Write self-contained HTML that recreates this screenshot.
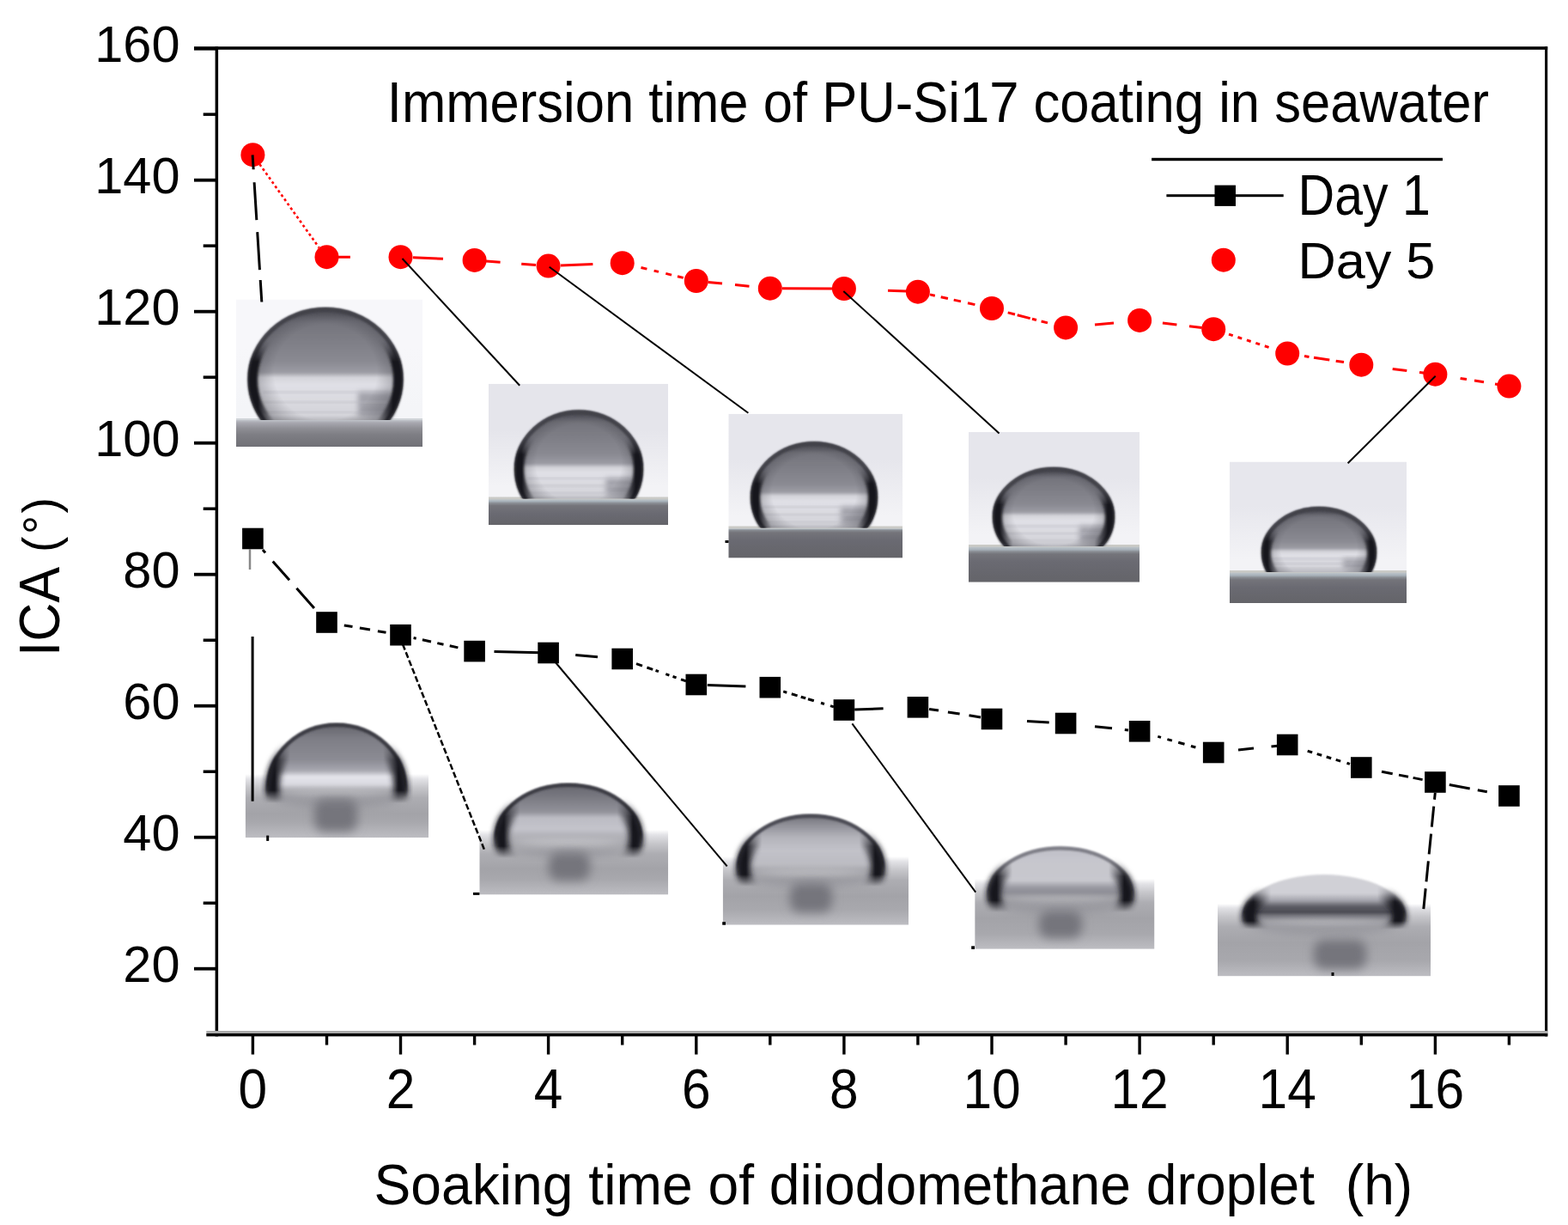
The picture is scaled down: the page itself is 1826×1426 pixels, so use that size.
<!DOCTYPE html>
<html><head><meta charset="utf-8"><title>ICA vs soaking time</title>
<style>html,body{margin:0;padding:0;background:#fff;}svg{display:block;}</style></head>
<body>
<svg width="1826" height="1426" viewBox="0 0 1826 1426">
<defs>
<filter id="b1" x="-20%" y="-20%" width="140%" height="140%"><feGaussianBlur stdDeviation="1.2"/></filter>
<filter id="b15" x="-20%" y="-20%" width="140%" height="140%"><feGaussianBlur stdDeviation="1.8"/></filter>
<filter id="b2" x="-30%" y="-30%" width="160%" height="160%"><feGaussianBlur stdDeviation="3"/></filter>
<filter id="b3" x="-50%" y="-50%" width="200%" height="200%"><feGaussianBlur stdDeviation="6"/></filter>
<linearGradient id="sidemask" x1="0" y1="0" x2="1" y2="0">
<stop offset="0" stop-color="#fff"/><stop offset="0.1" stop-color="#fff"/><stop offset="0.2" stop-color="#000"/>
<stop offset="0.8" stop-color="#000"/><stop offset="0.9" stop-color="#fff"/><stop offset="1" stop-color="#fff"/></linearGradient>
</defs>
<rect width="1826" height="1426" fill="#fff"/>

<clipPath id="c1"><rect x="275" y="348.5" width="217" height="171.5"/></clipPath>
<linearGradient id="bgg1" gradientUnits="userSpaceOnUse" x1="0" y1="348.5" x2="0" y2="489"><stop offset="0.000" stop-color="#f7f7fa"/><stop offset="0.400" stop-color="#f7f7fa"/><stop offset="0.900" stop-color="#f4f5f8"/><stop offset="1.000" stop-color="#f4f5f8"/></linearGradient>
<linearGradient id="sg1" gradientUnits="userSpaceOnUse" x1="0" y1="489" x2="0" y2="520"><stop offset="0.000" stop-color="#d0d4d8"/><stop offset="0.000" stop-color="#c0c4ca"/><stop offset="0.097" stop-color="#a8a8b0"/><stop offset="0.323" stop-color="#8e8e94"/><stop offset="0.548" stop-color="#7e7e84"/><stop offset="1.000" stop-color="#707076"/></linearGradient>
<linearGradient id="dg1" gradientUnits="userSpaceOnUse" x1="0" y1="358" x2="0" y2="489"><stop offset="0.000" stop-color="#4a4a52"/><stop offset="0.046" stop-color="#5a5a62"/><stop offset="0.128" stop-color="#74747c"/><stop offset="0.481" stop-color="#8a8a92"/><stop offset="0.577" stop-color="#9c9ca4"/><stop offset="0.622" stop-color="#d4d4da"/><stop offset="0.684" stop-color="#e0e0e6"/><stop offset="0.962" stop-color="#d4d4da"/><stop offset="1.000" stop-color="#b8b8be"/></linearGradient>
<g clip-path="url(#c1)">
<rect x="275" y="348.5" width="217" height="171.5" fill="url(#bgg1)"/>
<rect x="275" y="487" width="217" height="33" fill="url(#sg1)"/>
<clipPath id="d1"><rect x="275" y="348.5" width="217" height="140.5"/></clipPath>
<mask id="m1"><rect x="280.5" y="350" width="197.0" height="147" fill="url(#sidemask)"/></mask>
<g clip-path="url(#d1)">
<ellipse cx="379" cy="442" rx="90.5" ry="84" fill="url(#dg1)" filter="url(#b1)"/>
<rect x="417.0" y="456.1" width="40.7" height="28.2" fill="#a2a2aa" filter="url(#b2)"/>
<rect x="306.6" y="455.1" width="144.8" height="2.5" fill="#b8b8c0" opacity="0.45" filter="url(#b15)"/>
<rect x="306.6" y="466.9" width="144.8" height="2.5" fill="#b8b8c0" opacity="0.45" filter="url(#b15)"/>
<rect x="306.6" y="478.6" width="144.8" height="2.5" fill="#b8b8c0" opacity="0.45" filter="url(#b15)"/>
<radialGradient id="sh1" cx="0.5" cy="0.45" r="0.55"><stop offset="0" stop-color="#1a1a22" stop-opacity="0"/><stop offset="0.6" stop-color="#1a1a22" stop-opacity="0"/><stop offset="0.92" stop-color="#1a1a22" stop-opacity="0.35"/><stop offset="1" stop-color="#1a1a22" stop-opacity="0.5"/></radialGradient>
<ellipse cx="379" cy="442" rx="90.5" ry="84" fill="url(#sh1)"/>
<ellipse cx="379" cy="442" rx="88.0" ry="81.5" fill="none" stroke="#42424a" stroke-width="4.5" filter="url(#b1)"/>
<linearGradient id="vmg1" gradientUnits="userSpaceOnUse" x1="0" y1="358" x2="0" y2="489"><stop offset="0.000" stop-color="#000"/><stop offset="0.289" stop-color="#000"/><stop offset="0.481" stop-color="#fff"/><stop offset="1.000" stop-color="#fff"/></linearGradient>
<mask id="vm1" maskUnits="userSpaceOnUse" x="275" y="348.5" width="217" height="171.5"><rect x="275" y="348.5" width="217" height="171.5" fill="url(#vmg1)"/></mask>
<g mask="url(#vm1)"><ellipse cx="379" cy="442" rx="84.5" ry="78" fill="none" stroke="#15151b" stroke-width="11" mask="url(#m1)" filter="url(#b15)"/></g>
</g>
</g>
<clipPath id="c2"><rect x="569" y="446.7" width="209" height="164.3"/></clipPath>
<linearGradient id="bgg2" gradientUnits="userSpaceOnUse" x1="0" y1="446.7" x2="0" y2="580.5"><stop offset="0.000" stop-color="#e5e5eb"/><stop offset="0.400" stop-color="#e5e5eb"/><stop offset="0.895" stop-color="#f3f3f6"/><stop offset="1.000" stop-color="#f3f3f6"/></linearGradient>
<linearGradient id="sg2" gradientUnits="userSpaceOnUse" x1="0" y1="580.5" x2="0" y2="611"><stop offset="0.000" stop-color="#cacac6"/><stop offset="0.049" stop-color="#b8c0c6"/><stop offset="0.105" stop-color="#a6b0b8"/><stop offset="0.170" stop-color="#8a8e94"/><stop offset="0.269" stop-color="#74747a"/><stop offset="0.564" stop-color="#6a6a72"/><stop offset="1.000" stop-color="#646469"/></linearGradient>
<linearGradient id="dg2" gradientUnits="userSpaceOnUse" x1="0" y1="477.4" x2="0" y2="580.5"><stop offset="0.000" stop-color="#4a4a52"/><stop offset="0.058" stop-color="#5a5a62"/><stop offset="0.134" stop-color="#74747c"/><stop offset="0.502" stop-color="#8a8a92"/><stop offset="0.602" stop-color="#9c9ca4"/><stop offset="0.649" stop-color="#d4d4da"/><stop offset="0.709" stop-color="#e0e0e6"/><stop offset="0.952" stop-color="#d4d4da"/><stop offset="1.000" stop-color="#b8b8be"/></linearGradient>
<g clip-path="url(#c2)">
<rect x="569" y="446.7" width="209" height="164.3" fill="url(#bgg2)"/>
<rect x="569" y="578.5" width="209" height="32.5" fill="url(#sg2)"/>
<clipPath id="d2"><rect x="569" y="446.7" width="209" height="133.8"/></clipPath>
<mask id="m2"><rect x="591" y="469.4" width="166" height="119.10000000000002" fill="url(#sidemask)"/></mask>
<g clip-path="url(#d2)">
<ellipse cx="674" cy="546.4" rx="75" ry="69" fill="url(#dg2)" filter="url(#b1)"/>
<rect x="705.5" y="556.6" width="33.8" height="20.5" fill="#a2a2aa" filter="url(#b2)"/>
<rect x="614.0" y="555.6" width="120.0" height="2.5" fill="#b8b8c0" opacity="0.45" filter="url(#b15)"/>
<rect x="614.0" y="564.2" width="120.0" height="2.5" fill="#b8b8c0" opacity="0.45" filter="url(#b15)"/>
<rect x="614.0" y="572.7" width="120.0" height="2.5" fill="#b8b8c0" opacity="0.45" filter="url(#b15)"/>
<radialGradient id="sh2" cx="0.5" cy="0.45" r="0.55"><stop offset="0" stop-color="#1a1a22" stop-opacity="0"/><stop offset="0.6" stop-color="#1a1a22" stop-opacity="0"/><stop offset="0.92" stop-color="#1a1a22" stop-opacity="0.35"/><stop offset="1" stop-color="#1a1a22" stop-opacity="0.5"/></radialGradient>
<ellipse cx="674" cy="546.4" rx="75" ry="69" fill="url(#sh2)"/>
<ellipse cx="674" cy="546.4" rx="72.5" ry="66.5" fill="none" stroke="#42424a" stroke-width="4.5" filter="url(#b1)"/>
<linearGradient id="vmg2" gradientUnits="userSpaceOnUse" x1="0" y1="477.4" x2="0" y2="580.5"><stop offset="0.000" stop-color="#000"/><stop offset="0.301" stop-color="#000"/><stop offset="0.502" stop-color="#fff"/><stop offset="1.000" stop-color="#fff"/></linearGradient>
<mask id="vm2" maskUnits="userSpaceOnUse" x="569" y="446.7" width="209" height="164.3"><rect x="569" y="446.7" width="209" height="164.3" fill="url(#vmg2)"/></mask>
<g mask="url(#vm2)"><ellipse cx="674" cy="546.4" rx="69" ry="63" fill="none" stroke="#15151b" stroke-width="11" mask="url(#m2)" filter="url(#b15)"/></g>
</g>
</g>
<clipPath id="c3"><rect x="848.3" y="481.7" width="202.70000000000005" height="167.90000000000003"/></clipPath>
<linearGradient id="bgg3" gradientUnits="userSpaceOnUse" x1="0" y1="481.7" x2="0" y2="614.5"><stop offset="0.000" stop-color="#e6e6ec"/><stop offset="0.400" stop-color="#e6e6ec"/><stop offset="0.895" stop-color="#f3f3f6"/><stop offset="1.000" stop-color="#f3f3f6"/></linearGradient>
<linearGradient id="sg3" gradientUnits="userSpaceOnUse" x1="0" y1="614.5" x2="0" y2="649.6"><stop offset="0.000" stop-color="#cacac6"/><stop offset="0.043" stop-color="#b8c0c6"/><stop offset="0.014" stop-color="#a6b0b8"/><stop offset="0.071" stop-color="#8a8e94"/><stop offset="0.157" stop-color="#74747a"/><stop offset="0.413" stop-color="#6a6a72"/><stop offset="1.000" stop-color="#646469"/></linearGradient>
<linearGradient id="dg3" gradientUnits="userSpaceOnUse" x1="0" y1="514.3" x2="0" y2="614.5"><stop offset="0.000" stop-color="#4a4a52"/><stop offset="0.060" stop-color="#5a5a62"/><stop offset="0.130" stop-color="#74747c"/><stop offset="0.487" stop-color="#8a8a92"/><stop offset="0.584" stop-color="#9c9ca4"/><stop offset="0.629" stop-color="#d4d4da"/><stop offset="0.691" stop-color="#e0e0e6"/><stop offset="0.950" stop-color="#d4d4da"/><stop offset="1.000" stop-color="#b8b8be"/></linearGradient>
<g clip-path="url(#c3)">
<rect x="848.3" y="481.7" width="202.70000000000005" height="167.90000000000003" fill="url(#bgg3)"/>
<rect x="848.3" y="612.5" width="202.70000000000005" height="37.10000000000002" fill="url(#sg3)"/>
<clipPath id="d3"><rect x="848.3" y="481.7" width="202.70000000000005" height="132.8"/></clipPath>
<mask id="m3"><rect x="866" y="506.29999999999995" width="164" height="116.20000000000005" fill="url(#sidemask)"/></mask>
<g clip-path="url(#d3)">
<ellipse cx="948" cy="579.3" rx="74" ry="65" fill="url(#dg3)" filter="url(#b1)"/>
<rect x="979.1" y="589.9" width="33.3" height="21.1" fill="#a2a2aa" filter="url(#b2)"/>
<rect x="888.8" y="588.9" width="118.4" height="2.5" fill="#b8b8c0" opacity="0.45" filter="url(#b15)"/>
<rect x="888.8" y="597.7" width="118.4" height="2.5" fill="#b8b8c0" opacity="0.45" filter="url(#b15)"/>
<rect x="888.8" y="606.5" width="118.4" height="2.5" fill="#b8b8c0" opacity="0.45" filter="url(#b15)"/>
<radialGradient id="sh3" cx="0.5" cy="0.45" r="0.55"><stop offset="0" stop-color="#1a1a22" stop-opacity="0"/><stop offset="0.6" stop-color="#1a1a22" stop-opacity="0"/><stop offset="0.92" stop-color="#1a1a22" stop-opacity="0.35"/><stop offset="1" stop-color="#1a1a22" stop-opacity="0.5"/></radialGradient>
<ellipse cx="948" cy="579.3" rx="74" ry="65" fill="url(#sh3)"/>
<ellipse cx="948" cy="579.3" rx="71.5" ry="62.5" fill="none" stroke="#42424a" stroke-width="4.5" filter="url(#b1)"/>
<linearGradient id="vmg3" gradientUnits="userSpaceOnUse" x1="0" y1="514.3" x2="0" y2="614.5"><stop offset="0.000" stop-color="#000"/><stop offset="0.292" stop-color="#000"/><stop offset="0.487" stop-color="#fff"/><stop offset="1.000" stop-color="#fff"/></linearGradient>
<mask id="vm3" maskUnits="userSpaceOnUse" x="848.3" y="481.7" width="202.70000000000005" height="167.90000000000003"><rect x="848.3" y="481.7" width="202.70000000000005" height="167.90000000000003" fill="url(#vmg3)"/></mask>
<g mask="url(#vm3)"><ellipse cx="948" cy="579.3" rx="68" ry="59" fill="none" stroke="#15151b" stroke-width="11" mask="url(#m3)" filter="url(#b15)"/></g>
</g>
</g>
<clipPath id="c4"><rect x="1128" y="502.8" width="199" height="174.90000000000003"/></clipPath>
<linearGradient id="bgg4" gradientUnits="userSpaceOnUse" x1="0" y1="502.8" x2="0" y2="636"><stop offset="0.000" stop-color="#e6e6ec"/><stop offset="0.400" stop-color="#e6e6ec"/><stop offset="0.895" stop-color="#f3f3f6"/><stop offset="1.000" stop-color="#f3f3f6"/></linearGradient>
<linearGradient id="sg4" gradientUnits="userSpaceOnUse" x1="0" y1="636" x2="0" y2="677.7"><stop offset="0.000" stop-color="#cacac6"/><stop offset="0.036" stop-color="#b8c0c6"/><stop offset="0.096" stop-color="#a6b0b8"/><stop offset="0.144" stop-color="#8a8e94"/><stop offset="0.216" stop-color="#74747a"/><stop offset="0.432" stop-color="#6a6a72"/><stop offset="1.000" stop-color="#646469"/></linearGradient>
<linearGradient id="dg4" gradientUnits="userSpaceOnUse" x1="0" y1="544" x2="0" y2="636"><stop offset="0.000" stop-color="#4a4a52"/><stop offset="0.065" stop-color="#5a5a62"/><stop offset="0.126" stop-color="#74747c"/><stop offset="0.473" stop-color="#8a8a92"/><stop offset="0.567" stop-color="#9c9ca4"/><stop offset="0.612" stop-color="#d4d4da"/><stop offset="0.675" stop-color="#e0e0e6"/><stop offset="0.946" stop-color="#d4d4da"/><stop offset="1.000" stop-color="#b8b8be"/></linearGradient>
<g clip-path="url(#c4)">
<rect x="1128" y="502.8" width="199" height="174.90000000000003" fill="url(#bgg4)"/>
<rect x="1128" y="634" width="199" height="43.700000000000045" fill="url(#sg4)"/>
<clipPath id="d4"><rect x="1128" y="502.8" width="199" height="133.2"/></clipPath>
<mask id="m4"><rect x="1148" y="536" width="158" height="108" fill="url(#sidemask)"/></mask>
<g clip-path="url(#d4)">
<ellipse cx="1227" cy="602" rx="71" ry="58" fill="url(#dg4)" filter="url(#b1)"/>
<rect x="1256.8" y="612.2" width="31.9" height="20.4" fill="#a2a2aa" filter="url(#b2)"/>
<rect x="1170.2" y="611.2" width="113.6" height="2.5" fill="#b8b8c0" opacity="0.45" filter="url(#b15)"/>
<rect x="1170.2" y="619.7" width="113.6" height="2.5" fill="#b8b8c0" opacity="0.45" filter="url(#b15)"/>
<rect x="1170.2" y="628.2" width="113.6" height="2.5" fill="#b8b8c0" opacity="0.45" filter="url(#b15)"/>
<radialGradient id="sh4" cx="0.5" cy="0.45" r="0.55"><stop offset="0" stop-color="#1a1a22" stop-opacity="0"/><stop offset="0.6" stop-color="#1a1a22" stop-opacity="0"/><stop offset="0.92" stop-color="#1a1a22" stop-opacity="0.35"/><stop offset="1" stop-color="#1a1a22" stop-opacity="0.5"/></radialGradient>
<ellipse cx="1227" cy="602" rx="71" ry="58" fill="url(#sh4)"/>
<ellipse cx="1227" cy="602" rx="68.5" ry="55.5" fill="none" stroke="#42424a" stroke-width="4.5" filter="url(#b1)"/>
<linearGradient id="vmg4" gradientUnits="userSpaceOnUse" x1="0" y1="544" x2="0" y2="636"><stop offset="0.000" stop-color="#000"/><stop offset="0.284" stop-color="#000"/><stop offset="0.473" stop-color="#fff"/><stop offset="1.000" stop-color="#fff"/></linearGradient>
<mask id="vm4" maskUnits="userSpaceOnUse" x="1128" y="502.8" width="199" height="174.90000000000003"><rect x="1128" y="502.8" width="199" height="174.90000000000003" fill="url(#vmg4)"/></mask>
<g mask="url(#vm4)"><ellipse cx="1227" cy="602" rx="65" ry="52" fill="none" stroke="#15151b" stroke-width="11" mask="url(#m4)" filter="url(#b15)"/></g>
</g>
</g>
<clipPath id="c5"><rect x="1432" y="537.5" width="206" height="164.5"/></clipPath>
<linearGradient id="bgg5" gradientUnits="userSpaceOnUse" x1="0" y1="537.5" x2="0" y2="666"><stop offset="0.000" stop-color="#e7e7ed"/><stop offset="0.400" stop-color="#e7e7ed"/><stop offset="0.891" stop-color="#f3f3f6"/><stop offset="1.000" stop-color="#f3f3f6"/></linearGradient>
<linearGradient id="sg5" gradientUnits="userSpaceOnUse" x1="0" y1="666" x2="0" y2="702"><stop offset="0.000" stop-color="#cacac6"/><stop offset="0.042" stop-color="#b8c0c6"/><stop offset="0.111" stop-color="#a6b0b8"/><stop offset="0.167" stop-color="#8a8e94"/><stop offset="0.250" stop-color="#74747a"/><stop offset="0.500" stop-color="#6a6a72"/><stop offset="1.000" stop-color="#646469"/></linearGradient>
<linearGradient id="dg5" gradientUnits="userSpaceOnUse" x1="0" y1="590.0" x2="0" y2="666"><stop offset="0.000" stop-color="#4a4a52"/><stop offset="0.079" stop-color="#5a5a62"/><stop offset="0.141" stop-color="#74747c"/><stop offset="0.528" stop-color="#8a8a92"/><stop offset="0.634" stop-color="#9c9ca4"/><stop offset="0.683" stop-color="#d4d4da"/><stop offset="0.739" stop-color="#e0e0e6"/><stop offset="0.934" stop-color="#d4d4da"/><stop offset="1.000" stop-color="#b8b8be"/></linearGradient>
<g clip-path="url(#c5)">
<rect x="1432" y="537.5" width="206" height="164.5" fill="url(#bgg5)"/>
<rect x="1432" y="664" width="206" height="38" fill="url(#sg5)"/>
<clipPath id="d5"><rect x="1432" y="537.5" width="206" height="128.5"/></clipPath>
<mask id="m5"><rect x="1461" y="582.0" width="150" height="92.0" fill="url(#sidemask)"/></mask>
<g clip-path="url(#d5)">
<ellipse cx="1536" cy="643.5" rx="67" ry="53.5" fill="url(#dg5)" filter="url(#b1)"/>
<rect x="1564.1" y="650.2" width="30.2" height="13.5" fill="#a2a2aa" filter="url(#b2)"/>
<rect x="1482.4" y="649.2" width="107.2" height="2.5" fill="#b8b8c0" opacity="0.45" filter="url(#b15)"/>
<rect x="1482.4" y="654.9" width="107.2" height="2.5" fill="#b8b8c0" opacity="0.45" filter="url(#b15)"/>
<rect x="1482.4" y="660.5" width="107.2" height="2.5" fill="#b8b8c0" opacity="0.45" filter="url(#b15)"/>
<radialGradient id="sh5" cx="0.5" cy="0.45" r="0.55"><stop offset="0" stop-color="#1a1a22" stop-opacity="0"/><stop offset="0.6" stop-color="#1a1a22" stop-opacity="0"/><stop offset="0.92" stop-color="#1a1a22" stop-opacity="0.35"/><stop offset="1" stop-color="#1a1a22" stop-opacity="0.5"/></radialGradient>
<ellipse cx="1536" cy="643.5" rx="67" ry="53.5" fill="url(#sh5)"/>
<ellipse cx="1536" cy="643.5" rx="64.5" ry="51.0" fill="none" stroke="#42424a" stroke-width="4.5" filter="url(#b1)"/>
<linearGradient id="vmg5" gradientUnits="userSpaceOnUse" x1="0" y1="590.0" x2="0" y2="666"><stop offset="0.000" stop-color="#000"/><stop offset="0.317" stop-color="#000"/><stop offset="0.528" stop-color="#fff"/><stop offset="1.000" stop-color="#fff"/></linearGradient>
<mask id="vm5" maskUnits="userSpaceOnUse" x="1432" y="537.5" width="206" height="164.5"><rect x="1432" y="537.5" width="206" height="164.5" fill="url(#vmg5)"/></mask>
<g mask="url(#vm5)"><ellipse cx="1536" cy="643.5" rx="61" ry="47.5" fill="none" stroke="#15151b" stroke-width="11" mask="url(#m5)" filter="url(#b15)"/></g>
</g>
</g>
<linearGradient id="bg6" gradientUnits="userSpaceOnUse" x1="0" y1="901" x2="0" y2="975"><stop offset="0.000" stop-color="#ffffff"/><stop offset="0.081" stop-color="#e2e2e6"/><stop offset="0.216" stop-color="#c6c6ca"/><stop offset="0.378" stop-color="#adadb2"/><stop offset="0.622" stop-color="#a3a3a8"/><stop offset="0.757" stop-color="#a8a8ad"/><stop offset="0.946" stop-color="#b8b8bd"/><stop offset="1.000" stop-color="#bdbdc2"/></linearGradient>
<clipPath id="e6"><rect x="285.7" y="901" width="213.3" height="74"/></clipPath>
<g clip-path="url(#e6)">
<rect x="285.7" y="901" width="213.3" height="74" fill="url(#bg6)"/>
<rect x="366" y="930" width="50" height="38" rx="12" fill="#75757c" filter="url(#b3)"/>
<ellipse cx="392" cy="922" rx="73.8" ry="12" fill="none" stroke="#7a7a82" stroke-width="8" filter="url(#b3)" opacity="0.6"/>
</g>
<linearGradient id="dd6" gradientUnits="userSpaceOnUse" x1="0" y1="842" x2="0" y2="924"><stop offset="0.000" stop-color="#4a4a52"/><stop offset="0.061" stop-color="#6a6a72"/><stop offset="0.220" stop-color="#7e7e86"/><stop offset="0.524" stop-color="#8c8c94"/><stop offset="0.671" stop-color="#a8a8b0"/><stop offset="0.756" stop-color="#e4e4ea"/><stop offset="0.854" stop-color="#dcdce2"/><stop offset="0.951" stop-color="#b0b0b6"/><stop offset="1.000" stop-color="#a8a8ae"/></linearGradient>
<linearGradient id="fm6" gradientUnits="userSpaceOnUse" x1="0" y1="842" x2="0" y2="942"><stop offset="0.000" stop-color="#fff"/><stop offset="0.720" stop-color="#fff"/><stop offset="0.860" stop-color="#000"/><stop offset="1.000" stop-color="#000"/></linearGradient>
<mask id="fmk6" maskUnits="userSpaceOnUse" x="290" y="832" width="204" height="120"><rect x="290" y="832" width="204" height="120" fill="url(#fm6)"/></mask>
<linearGradient id="sm6" gradientUnits="userSpaceOnUse" x1="0" y1="842" x2="0" y2="942"><stop offset="0.000" stop-color="#000"/><stop offset="0.180" stop-color="#000"/><stop offset="0.430" stop-color="#fff"/><stop offset="0.780" stop-color="#fff"/><stop offset="0.930" stop-color="#000"/></linearGradient>
<mask id="smk6" maskUnits="userSpaceOnUse" x="290" y="832" width="204" height="120"><rect x="290" y="832" width="204" height="120" fill="url(#sm6)"/></mask>
<mask id="n6"><rect x="302" y="834" width="180" height="110" fill="url(#sidemask)"/></mask>
<g mask="url(#fmk6)">
<ellipse cx="392" cy="918" rx="82" ry="76" fill="url(#dd6)" filter="url(#b1)"/>
<ellipse cx="392" cy="918" rx="80" ry="74" fill="none" stroke="#3a3a42" stroke-width="4" filter="url(#b1)"/>
</g>
<g mask="url(#smk6)"><ellipse cx="392" cy="918" rx="74" ry="68" fill="none" stroke="#18181e" stroke-width="18" mask="url(#n6)" filter="url(#b2)"/></g>
<linearGradient id="bg7" gradientUnits="userSpaceOnUse" x1="0" y1="966" x2="0" y2="1041.6"><stop offset="0.000" stop-color="#ffffff"/><stop offset="0.079" stop-color="#e2e2e6"/><stop offset="0.212" stop-color="#c6c6ca"/><stop offset="0.370" stop-color="#adadb2"/><stop offset="0.608" stop-color="#a3a3a8"/><stop offset="0.762" stop-color="#a8a8ad"/><stop offset="0.947" stop-color="#b8b8bd"/><stop offset="1.000" stop-color="#bdbdc2"/></linearGradient>
<clipPath id="e7"><rect x="558.3" y="966" width="219.9000000000001" height="75.59999999999991"/></clipPath>
<g clip-path="url(#e7)">
<rect x="558.3" y="966" width="219.9000000000001" height="75.59999999999991" fill="url(#bg7)"/>
<rect x="639" y="992" width="48" height="33" rx="12" fill="#75757c" filter="url(#b3)"/>
<ellipse cx="662" cy="979" rx="77.4" ry="12" fill="none" stroke="#7a7a82" stroke-width="8" filter="url(#b3)" opacity="0.6"/>
</g>
<linearGradient id="dd7" gradientUnits="userSpaceOnUse" x1="0" y1="912" x2="0" y2="981"><stop offset="0.000" stop-color="#4a4a52"/><stop offset="0.058" stop-color="#6a6a72"/><stop offset="0.261" stop-color="#7c7c84"/><stop offset="0.478" stop-color="#92929a"/><stop offset="0.580" stop-color="#bcbcc4"/><stop offset="0.768" stop-color="#c4c4cb"/><stop offset="0.913" stop-color="#acacb2"/><stop offset="1.000" stop-color="#a8a8ae"/></linearGradient>
<linearGradient id="fm7" gradientUnits="userSpaceOnUse" x1="0" y1="912" x2="0" y2="999"><stop offset="0.000" stop-color="#fff"/><stop offset="0.678" stop-color="#fff"/><stop offset="0.839" stop-color="#000"/><stop offset="1.000" stop-color="#000"/></linearGradient>
<mask id="fmk7" maskUnits="userSpaceOnUse" x="556" y="902" width="212" height="107"><rect x="556" y="902" width="212" height="107" fill="url(#fm7)"/></mask>
<linearGradient id="sm7" gradientUnits="userSpaceOnUse" x1="0" y1="912" x2="0" y2="999"><stop offset="0.000" stop-color="#000"/><stop offset="0.149" stop-color="#000"/><stop offset="0.437" stop-color="#fff"/><stop offset="0.839" stop-color="#fff"/><stop offset="1.000" stop-color="#000"/></linearGradient>
<mask id="smk7" maskUnits="userSpaceOnUse" x="556" y="902" width="212" height="107"><rect x="556" y="902" width="212" height="107" fill="url(#sm7)"/></mask>
<mask id="n7"><rect x="568" y="904" width="188" height="97" fill="url(#sidemask)"/></mask>
<g mask="url(#fmk7)">
<ellipse cx="662" cy="975" rx="86" ry="63" fill="url(#dd7)" filter="url(#b1)"/>
<ellipse cx="662" cy="975" rx="84" ry="61" fill="none" stroke="#3a3a42" stroke-width="4" filter="url(#b1)"/>
</g>
<g mask="url(#smk7)"><ellipse cx="662" cy="975" rx="78" ry="55" fill="none" stroke="#18181e" stroke-width="18" mask="url(#n7)" filter="url(#b2)"/></g>
<linearGradient id="bg8" gradientUnits="userSpaceOnUse" x1="0" y1="997" x2="0" y2="1076.7"><stop offset="0.000" stop-color="#ffffff"/><stop offset="0.075" stop-color="#e2e2e6"/><stop offset="0.201" stop-color="#c6c6ca"/><stop offset="0.351" stop-color="#adadb2"/><stop offset="0.577" stop-color="#a3a3a8"/><stop offset="0.774" stop-color="#a8a8ad"/><stop offset="0.950" stop-color="#b8b8bd"/><stop offset="1.000" stop-color="#bdbdc2"/></linearGradient>
<clipPath id="e8"><rect x="841.7" y="997" width="216.29999999999995" height="79.70000000000005"/></clipPath>
<g clip-path="url(#e8)">
<rect x="841.7" y="997" width="216.29999999999995" height="79.70000000000005" fill="url(#bg8)"/>
<rect x="920" y="1028" width="49" height="34" rx="12" fill="#75757c" filter="url(#b3)"/>
<ellipse cx="944" cy="1014" rx="77.4" ry="12" fill="none" stroke="#7a7a82" stroke-width="8" filter="url(#b3)" opacity="0.6"/>
</g>
<linearGradient id="dd8" gradientUnits="userSpaceOnUse" x1="0" y1="948" x2="0" y2="1016"><stop offset="0.000" stop-color="#5c5c64"/><stop offset="0.059" stop-color="#7a7a82"/><stop offset="0.206" stop-color="#94949c"/><stop offset="0.397" stop-color="#b4b4bb"/><stop offset="0.618" stop-color="#c2c2c9"/><stop offset="0.853" stop-color="#bcbcc2"/><stop offset="0.941" stop-color="#a8a8ae"/><stop offset="1.000" stop-color="#a8a8ae"/></linearGradient>
<linearGradient id="fm8" gradientUnits="userSpaceOnUse" x1="0" y1="948" x2="0" y2="1034"><stop offset="0.000" stop-color="#fff"/><stop offset="0.674" stop-color="#fff"/><stop offset="0.837" stop-color="#000"/><stop offset="1.000" stop-color="#000"/></linearGradient>
<mask id="fmk8" maskUnits="userSpaceOnUse" x="838" y="938" width="212" height="106"><rect x="838" y="938" width="212" height="106" fill="url(#fm8)"/></mask>
<linearGradient id="sm8" gradientUnits="userSpaceOnUse" x1="0" y1="948" x2="0" y2="1034"><stop offset="0.000" stop-color="#000"/><stop offset="0.140" stop-color="#000"/><stop offset="0.430" stop-color="#fff"/><stop offset="0.814" stop-color="#fff"/><stop offset="0.977" stop-color="#000"/></linearGradient>
<mask id="smk8" maskUnits="userSpaceOnUse" x="838" y="938" width="212" height="106"><rect x="838" y="938" width="212" height="106" fill="url(#sm8)"/></mask>
<mask id="n8"><rect x="850" y="940" width="188" height="96" fill="url(#sidemask)"/></mask>
<g mask="url(#fmk8)">
<ellipse cx="944" cy="1010" rx="86" ry="62" fill="url(#dd8)" filter="url(#b1)"/>
<ellipse cx="944" cy="1010" rx="84" ry="60" fill="none" stroke="#4a4a52" stroke-width="4" filter="url(#b1)"/>
</g>
<g mask="url(#smk8)"><ellipse cx="944" cy="1010" rx="78" ry="54" fill="none" stroke="#18181e" stroke-width="18" mask="url(#n8)" filter="url(#b2)"/></g>
<linearGradient id="bg9" gradientUnits="userSpaceOnUse" x1="0" y1="1023" x2="0" y2="1104.8"><stop offset="0.000" stop-color="#ffffff"/><stop offset="0.073" stop-color="#e2e2e6"/><stop offset="0.196" stop-color="#c6c6ca"/><stop offset="0.342" stop-color="#adadb2"/><stop offset="0.562" stop-color="#a3a3a8"/><stop offset="0.780" stop-color="#a8a8ad"/><stop offset="0.951" stop-color="#b8b8bd"/><stop offset="1.000" stop-color="#bdbdc2"/></linearGradient>
<clipPath id="e9"><rect x="1135.2" y="1023" width="209.29999999999995" height="81.79999999999995"/></clipPath>
<g clip-path="url(#e9)">
<rect x="1135.2" y="1023" width="209.29999999999995" height="81.79999999999995" fill="url(#bg9)"/>
<rect x="1210" y="1060" width="50" height="32" rx="12" fill="#75757c" filter="url(#b3)"/>
<ellipse cx="1235" cy="1045" rx="76.5" ry="12" fill="none" stroke="#7a7a82" stroke-width="8" filter="url(#b3)" opacity="0.6"/>
</g>
<linearGradient id="dd9" gradientUnits="userSpaceOnUse" x1="0" y1="985.5" x2="0" y2="1047"><stop offset="0.000" stop-color="#b4b4bc"/><stop offset="0.073" stop-color="#c0c0c8"/><stop offset="0.236" stop-color="#c6c6cd"/><stop offset="0.642" stop-color="#c8c8ce"/><stop offset="0.772" stop-color="#9a9aa2"/><stop offset="0.886" stop-color="#8a8a92"/><stop offset="1.000" stop-color="#a0a0a6"/></linearGradient>
<linearGradient id="fm9" gradientUnits="userSpaceOnUse" x1="0" y1="985.5" x2="0" y2="1065"><stop offset="0.000" stop-color="#fff"/><stop offset="0.648" stop-color="#fff"/><stop offset="0.824" stop-color="#000"/><stop offset="1.000" stop-color="#000"/></linearGradient>
<mask id="fmk9" maskUnits="userSpaceOnUse" x="1130" y="975.5" width="210" height="99.5"><rect x="1130" y="975.5" width="210" height="99.5" fill="url(#fm9)"/></mask>
<linearGradient id="sm9" gradientUnits="userSpaceOnUse" x1="0" y1="985.5" x2="0" y2="1065"><stop offset="0.000" stop-color="#000"/><stop offset="0.119" stop-color="#000"/><stop offset="0.434" stop-color="#fff"/><stop offset="0.786" stop-color="#fff"/><stop offset="0.962" stop-color="#000"/></linearGradient>
<mask id="smk9" maskUnits="userSpaceOnUse" x="1130" y="975.5" width="210" height="99.5"><rect x="1130" y="975.5" width="210" height="99.5" fill="url(#sm9)"/></mask>
<mask id="n9"><rect x="1142" y="977.5" width="186" height="89.5" fill="url(#sidemask)"/></mask>
<g mask="url(#fmk9)">
<ellipse cx="1235" cy="1041" rx="85" ry="55.5" fill="url(#dd9)" filter="url(#b1)"/>
<ellipse cx="1235" cy="1041" rx="83" ry="53.5" fill="none" stroke="#7c7c84" stroke-width="4" filter="url(#b1)"/>
</g>
<g mask="url(#smk9)"><ellipse cx="1235" cy="1041" rx="77" ry="47.5" fill="none" stroke="#18181e" stroke-width="18" mask="url(#n9)" filter="url(#b2)"/></g>
<linearGradient id="bg10" gradientUnits="userSpaceOnUse" x1="0" y1="1052" x2="0" y2="1136.4"><stop offset="0.000" stop-color="#ffffff"/><stop offset="0.059" stop-color="#e2e2e6"/><stop offset="0.178" stop-color="#c6c6ca"/><stop offset="0.320" stop-color="#adadb2"/><stop offset="0.533" stop-color="#a3a3a8"/><stop offset="0.787" stop-color="#a8a8ad"/><stop offset="0.953" stop-color="#b8b8bd"/><stop offset="1.000" stop-color="#bdbdc2"/></linearGradient>
<clipPath id="e10"><rect x="1418" y="1052" width="248" height="84.40000000000009"/></clipPath>
<g clip-path="url(#e10)">
<rect x="1418" y="1052" width="248" height="84.40000000000009" fill="url(#bg10)"/>
<rect x="1530" y="1094" width="61" height="34" rx="12" fill="#75757c" filter="url(#b3)"/>
<ellipse cx="1542" cy="1070" rx="85.5" ry="12" fill="none" stroke="#7a7a82" stroke-width="8" filter="url(#b3)" opacity="0.6"/>
</g>
<linearGradient id="dd10" gradientUnits="userSpaceOnUse" x1="0" y1="1018" x2="0" y2="1072"><stop offset="0.000" stop-color="#d2d2d8"/><stop offset="0.111" stop-color="#d0d0d6"/><stop offset="0.407" stop-color="#d0d0d6"/><stop offset="0.556" stop-color="#a6a6ae"/><stop offset="0.685" stop-color="#5e5e66"/><stop offset="0.815" stop-color="#4c4c54"/><stop offset="0.963" stop-color="#6e6e76"/><stop offset="1.000" stop-color="#8a8a90"/></linearGradient>
<linearGradient id="fm10" gradientUnits="userSpaceOnUse" x1="0" y1="1018" x2="0" y2="1090"><stop offset="0.000" stop-color="#fff"/><stop offset="0.611" stop-color="#fff"/><stop offset="0.806" stop-color="#000"/><stop offset="1.000" stop-color="#000"/></linearGradient>
<mask id="fmk10" maskUnits="userSpaceOnUse" x="1427" y="1008" width="230" height="92"><rect x="1427" y="1008" width="230" height="92" fill="url(#fm10)"/></mask>
<linearGradient id="sm10" gradientUnits="userSpaceOnUse" x1="0" y1="1018" x2="0" y2="1090"><stop offset="0.000" stop-color="#000"/><stop offset="0.167" stop-color="#000"/><stop offset="0.444" stop-color="#fff"/><stop offset="0.750" stop-color="#fff"/><stop offset="0.889" stop-color="#000"/></linearGradient>
<mask id="smk10" maskUnits="userSpaceOnUse" x="1427" y="1008" width="230" height="92"><rect x="1427" y="1008" width="230" height="92" fill="url(#sm10)"/></mask>
<mask id="n10"><rect x="1439" y="1010" width="206" height="82" fill="url(#sidemask)"/></mask>
<g mask="url(#fmk10)">
<ellipse cx="1542" cy="1066" rx="95" ry="48" fill="url(#dd10)" filter="url(#b1)"/>
</g>
<g mask="url(#smk10)"><ellipse cx="1542" cy="1066" rx="87" ry="40" fill="none" stroke="#18181e" stroke-width="18" mask="url(#n10)" filter="url(#b2)"/></g>
<path d="M306.0,640.1L309.0,643.5M317.7,653.4L337.0,675.3M345.4,684.8L365.9,708.0M400.8,728.0L410.5,729.6M418.9,731.1L431.0,733.1M439.9,734.7L449.5,736.3M481.6,742.5L484.7,743.2M491.9,744.8L502.0,747.0M509.3,748.6L516.5,750.2M523.7,751.8L533.4,753.9M575.5,758.6L628.6,759.8M670.2,762.6L696.0,764.7M741.0,772.7L748.0,775.1M753.4,777.0L760.2,779.4M763.5,780.5L767.0,781.7M775.3,784.6L779.4,786.1M783.5,787.5L787.6,788.9M793.0,790.8L799.0,792.9M823.8,797.5L868.4,799.1M912.2,804.9L916.3,806.2M921.8,807.8L928.6,809.9M932.7,811.2L938.2,812.8M941.0,813.7L947.8,815.8M956.0,818.3L960.0,819.5M967.0,821.6L971.0,822.9M995.2,826.0L1028.6,824.8M1082.0,825.4L1093.0,827.1M1103.9,828.9L1117.6,831.0M1128.5,832.8L1142.0,834.9M1196.0,839.4L1221.7,840.9M1275.0,845.7L1295.0,847.8M1309.8,849.4L1314.0,849.9M1348.3,857.4L1352.0,858.4M1359.4,860.6L1364.9,862.1M1372.2,864.2L1379.5,866.3M1386.9,868.5L1392.4,870.0M1442.0,873.0L1460.0,871.1M1480.5,869.0L1488.0,868.2M1522.7,874.2L1528.2,875.9M1533.7,877.6L1539.2,879.3M1544.7,881.0L1550.2,882.7M1555.7,884.4L1561.2,886.1M1568.5,888.3L1572.0,889.4M1609.0,898.2L1621.7,900.7M1629.0,902.1L1640.0,904.3M1645.6,905.4L1656.6,907.6M1687.8,913.6L1711.7,918.0M1720.8,919.7L1731.8,921.7" fill="none" stroke="#000" stroke-width="3"/>
<path d="M394.0,299.2L407.9,299.2M481.0,299.8L516.0,301.3M566.0,303.9L582.6,305.2M607.2,307.2L624.0,308.5M653.0,309.0L690.4,307.6M746.5,311.5L753.4,313.1M761.6,315.1L767.0,316.4M775.3,318.4L782.1,320.1M789.0,321.7L795.8,323.4M824.6,328.4L841.0,330.1M856.0,331.6L872.5,333.2M911.0,335.7L970.0,336.0M1034.0,338.2L1056.0,339.1M1083.0,342.9L1088.8,344.2M1095.7,345.7L1103.9,347.5M1110.7,349.1L1119.0,350.9M1127.0,352.7L1135.4,354.6M1173.7,363.9L1182.0,366.0M1184.7,366.7L1199.7,370.6M1202.0,371.2L1207.0,372.5M1212.6,374.0L1220.0,375.9M1275.0,378.0L1297.0,375.9M1353.9,376.1L1370.4,378.1M1385.0,379.8L1399.7,381.6M1519.0,414.5L1524.5,415.4M1530.0,416.2L1548.3,419.0M1555.7,420.2L1565.0,421.6M1621.7,429.4L1638.3,431.5M1653.0,433.4L1660.0,434.2M1700.6,440.4L1708.0,441.6M1717.0,443.1L1728.0,444.8M1741.0,446.9L1746.5,447.8" fill="none" stroke="#ff0000" stroke-width="3"/>
<line x1="302.4" y1="191.2" x2="371.5" y2="288.2" stroke="#ff0000" stroke-width="2.6" stroke-dasharray="3 3.2"/>
<line x1="1431" y1="389.1" x2="1482" y2="405.8" stroke="#ff0000" stroke-width="3" stroke-dasharray="5 6"/>
<circle cx="294.4" cy="180.2" r="14" fill="#ff0000"/>
<circle cx="380.5" cy="299.2" r="14" fill="#ff0000"/>
<circle cx="466.5" cy="299.2" r="14" fill="#ff0000"/>
<circle cx="552.6" cy="302.9" r="14" fill="#ff0000"/>
<circle cx="638.6" cy="309.6" r="14" fill="#ff0000"/>
<circle cx="724.7" cy="306.2" r="14" fill="#ff0000"/>
<circle cx="810.8" cy="327" r="14" fill="#ff0000"/>
<circle cx="896.8" cy="335.7" r="14" fill="#ff0000"/>
<circle cx="982.9" cy="336" r="14" fill="#ff0000"/>
<circle cx="1068.9" cy="339.7" r="14" fill="#ff0000"/>
<circle cx="1155.0" cy="359" r="14" fill="#ff0000"/>
<circle cx="1241.1" cy="381.4" r="14" fill="#ff0000"/>
<circle cx="1327.1" cy="372.9" r="14" fill="#ff0000"/>
<circle cx="1413.2" cy="383.2" r="14" fill="#ff0000"/>
<circle cx="1499.2" cy="411.5" r="14" fill="#ff0000"/>
<circle cx="1585.3" cy="424.7" r="14" fill="#ff0000"/>
<circle cx="1671.4" cy="435.7" r="14" fill="#ff0000"/>
<circle cx="1757.4" cy="449.6" r="14" fill="#ff0000"/>
<rect x="282.1" y="614.7" width="24.6" height="24.6" fill="#000"/>
<rect x="368.2" y="712.2" width="24.6" height="24.6" fill="#000"/>
<rect x="454.2" y="726.9" width="24.6" height="24.6" fill="#000"/>
<rect x="540.3" y="745.8" width="24.6" height="24.6" fill="#000"/>
<rect x="626.3" y="747.7" width="24.6" height="24.6" fill="#000"/>
<rect x="712.4" y="754.7" width="24.6" height="24.6" fill="#000"/>
<rect x="798.5" y="784.7" width="24.6" height="24.6" fill="#000"/>
<rect x="884.5" y="787.9" width="24.6" height="24.6" fill="#000"/>
<rect x="970.6" y="814.2" width="24.6" height="24.6" fill="#000"/>
<rect x="1056.6" y="811.0" width="24.6" height="24.6" fill="#000"/>
<rect x="1142.7" y="824.7" width="24.6" height="24.6" fill="#000"/>
<rect x="1228.8" y="829.7" width="24.6" height="24.6" fill="#000"/>
<rect x="1314.8" y="839.0" width="24.6" height="24.6" fill="#000"/>
<rect x="1400.9" y="863.7" width="24.6" height="24.6" fill="#000"/>
<rect x="1486.9" y="854.7" width="24.6" height="24.6" fill="#000"/>
<rect x="1573.0" y="881.2" width="24.6" height="24.6" fill="#000"/>
<rect x="1659.1" y="898.2" width="24.6" height="24.6" fill="#000"/>
<rect x="1745.1" y="914.2" width="24.6" height="24.6" fill="#000"/>
<g stroke="#000" fill="none" stroke-linecap="butt">
<line x1="294.1" y1="180.3" x2="304.8" y2="351.5" stroke-width="3" stroke-dasharray="17 15 44 14 44 12 44 12"/>
<line x1="468.5" y1="301" x2="605.2" y2="448.8" stroke-width="2"/>
<line x1="639.7" y1="310.8" x2="871.4" y2="480.8" stroke-width="2"/>
<line x1="982.3" y1="338.9" x2="1163.6" y2="504.5" stroke-width="2"/>
<line x1="1671.7" y1="437.7" x2="1569.6" y2="539.3" stroke-width="2"/>
<line x1="291" y1="639" x2="291" y2="663" stroke-width="2.5" stroke="#888"/>
<line x1="294.1" y1="741" x2="294.1" y2="932.7" stroke-width="3"/>
<line x1="469" y1="750" x2="563.8" y2="988.6" stroke-width="2.5" stroke-dasharray="7 3"/>
<line x1="646" y1="770" x2="846.7" y2="1008.3" stroke-width="2"/>
<line x1="992.4" y1="842.4" x2="1136.2" y2="1038.7" stroke-width="2"/>
<line x1="1671.3" y1="922.8" x2="1657.4" y2="1062.3" stroke-width="3" stroke-dasharray="8 8 24 8 24 8 24 8 24 8"/>
<line x1="551" y1="1040.4" x2="558.4" y2="1040.4" stroke-width="3"/>
<line x1="311.7" y1="972.6" x2="311.7" y2="978.9" stroke-width="3"/>
<line x1="1552" y1="1132" x2="1552" y2="1136" stroke-width="3"/>
<rect x="844.5" y="629" width="4" height="3" fill="#000" stroke="none"/>
<rect x="841.2" y="1073.2" width="3.8" height="3.5" fill="#000" stroke="none"/>
<rect x="1131.2" y="1101.3" width="3.8" height="3.6" fill="#000" stroke="none"/>
</g>
<g fill="#000">
<rect x="250.6" y="54.2" width="3.5" height="1152.2"/>
<rect x="1799.1" y="54.2" width="3.1" height="1152.2"/>
<rect x="226" y="54.2" width="1576.2" height="3.6"/>
<rect x="240.3" y="1200" width="1562" height="3" fill="#aaa"/>
<rect x="240.3" y="1203" width="1562" height="3.4"/>
<rect x="226" y="1125.8" width="26" height="3.8"/>
<rect x="226" y="972.8" width="26" height="3.8"/>
<rect x="226" y="819.8" width="26" height="3.8"/>
<rect x="226" y="666.8" width="26" height="3.8"/>
<rect x="226" y="513.8" width="26" height="3.8"/>
<rect x="226" y="360.8" width="26" height="3.8"/>
<rect x="226" y="207.8" width="26" height="3.8"/>
<rect x="226" y="54.8" width="26" height="3.8"/>
<rect x="236.7" y="1049.5" width="15" height="3.5"/>
<rect x="236.7" y="896.5" width="15" height="3.5"/>
<rect x="236.7" y="743.5" width="15" height="3.5"/>
<rect x="236.7" y="590.5" width="15" height="3.5"/>
<rect x="236.7" y="437.4" width="15" height="3.5"/>
<rect x="236.7" y="284.4" width="15" height="3.5"/>
<rect x="236.7" y="131.4" width="15" height="3.5"/>
<rect x="292.7" y="1206" width="3.4" height="21.5"/>
<rect x="378.8" y="1206" width="3.4" height="10.5"/>
<rect x="464.8" y="1206" width="3.4" height="21.5"/>
<rect x="550.9" y="1206" width="3.4" height="10.5"/>
<rect x="636.9" y="1206" width="3.4" height="21.5"/>
<rect x="723.0" y="1206" width="3.4" height="10.5"/>
<rect x="809.1" y="1206" width="3.4" height="21.5"/>
<rect x="895.1" y="1206" width="3.4" height="10.5"/>
<rect x="981.2" y="1206" width="3.4" height="21.5"/>
<rect x="1067.2" y="1206" width="3.4" height="10.5"/>
<rect x="1153.3" y="1206" width="3.4" height="21.5"/>
<rect x="1239.4" y="1206" width="3.4" height="10.5"/>
<rect x="1325.4" y="1206" width="3.4" height="21.5"/>
<rect x="1411.5" y="1206" width="3.4" height="10.5"/>
<rect x="1497.5" y="1206" width="3.4" height="21.5"/>
<rect x="1583.6" y="1206" width="3.4" height="10.5"/>
<rect x="1669.7" y="1206" width="3.4" height="21.5"/>
<rect x="1755.7" y="1206" width="3.4" height="10.5"/>
</g>
<g font-family="'Liberation Sans', Arial, sans-serif" fill="#000">
<text x="209.5" y="1143.2" font-size="59.5" text-anchor="end">20</text>
<text x="209.5" y="990.2" font-size="59.5" text-anchor="end">40</text>
<text x="209.5" y="837.2" font-size="59.5" text-anchor="end">60</text>
<text x="209.5" y="684.2" font-size="59.5" text-anchor="end">80</text>
<text x="209.5" y="531.2" font-size="59.5" text-anchor="end">100</text>
<text x="209.5" y="378.2" font-size="59.5" text-anchor="end">120</text>
<text x="209.5" y="225.2" font-size="59.5" text-anchor="end">140</text>
<text x="209.5" y="72.2" font-size="59.5" text-anchor="end">160</text>
<text transform="translate(294.4,1290) scale(0.93,1)" font-size="65" text-anchor="middle">0</text>
<text transform="translate(466.5,1290) scale(0.93,1)" font-size="65" text-anchor="middle">2</text>
<text transform="translate(638.6,1290) scale(0.93,1)" font-size="65" text-anchor="middle">4</text>
<text transform="translate(810.8,1290) scale(0.93,1)" font-size="65" text-anchor="middle">6</text>
<text transform="translate(982.9,1290) scale(0.93,1)" font-size="65" text-anchor="middle">8</text>
<text transform="translate(1155.0,1290) scale(0.93,1)" font-size="65" text-anchor="middle">10</text>
<text transform="translate(1327.1,1290) scale(0.93,1)" font-size="65" text-anchor="middle">12</text>
<text transform="translate(1499.2,1290) scale(0.93,1)" font-size="65" text-anchor="middle">14</text>
<text transform="translate(1671.4,1290) scale(0.93,1)" font-size="65" text-anchor="middle">16</text>
<text transform="translate(450.8,141.6) scale(1,1.08)" font-size="61.57">Immersion time of PU-Si17 coating in seawater</text>
<text transform="translate(435.5,1402.2) scale(1,1.045)" font-size="64.2" xml:space="preserve">Soaking time of diiodomethane droplet  (h)</text>
<text transform="translate(69,764) rotate(-90) scale(1,1.06)" font-size="62.5">ICA <tspan font-size="55" dy="-2" dx="3" letter-spacing="2.5">(°)</tspan></text>
<text transform="translate(1511.5,250.2) scale(0.93,1.05)" font-size="63.5">Day 1</text>
<text transform="translate(1511.5,323.6) scale(1.02,1)" font-size="60">Day 5</text>
</g>
<rect x="1341.1" y="183.8" width="338.9" height="3.4" fill="#000"/>
<rect x="1358.4" y="226.2" width="136.3" height="3" fill="#000"/>
<rect x="1414.5" y="215.6" width="24.5" height="24.3" fill="#000"/>
<circle cx="1424.8" cy="302.7" r="14" fill="#ff0000"/>
</svg>
</body></html>
